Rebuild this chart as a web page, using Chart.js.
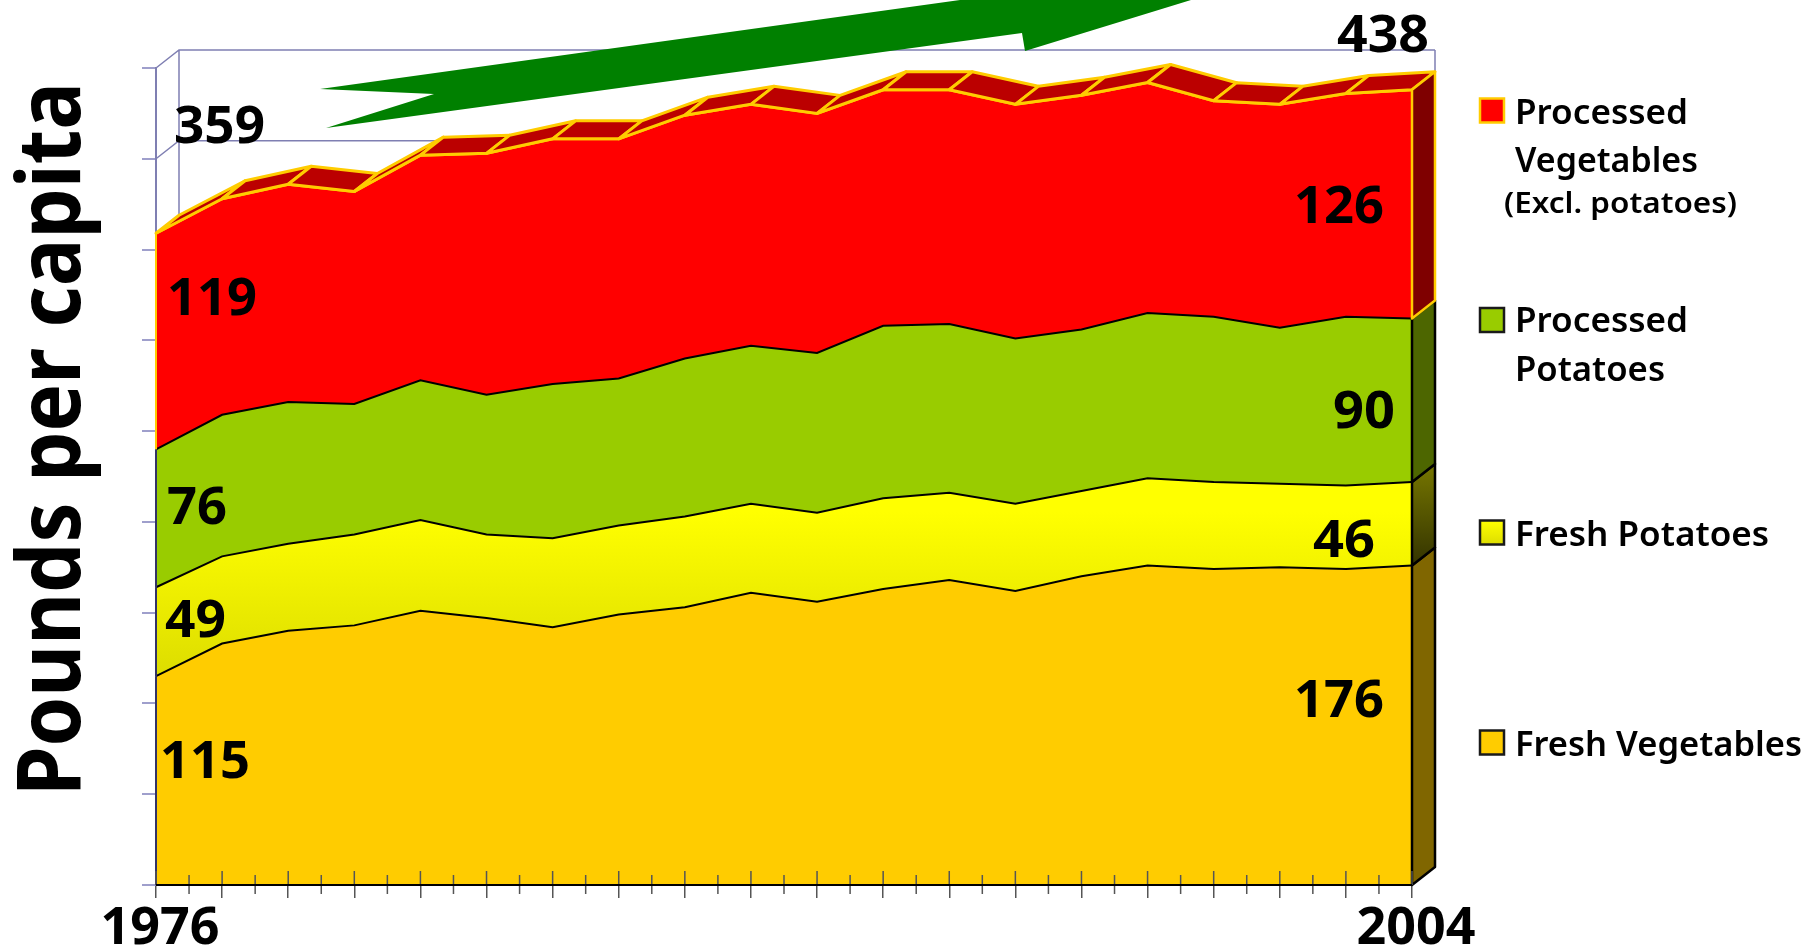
<!DOCTYPE html>
<html>
<head>
<meta charset="utf-8">
<title>Pounds per capita</title>
<script src="https://cdn.jsdelivr.net/npm/chart.js"></script>
<style>
  html, body { margin: 0; padding: 0; background: #fff; overflow: hidden; }
  canvas { display: block; }
</style>
</head>
<body>
<canvas id="chart" width="1809" height="952"></canvas>
<script>
// only the two end years are labelled on the axis
const categories = ["1976", "", "", "", "", "", "", "", "", "", "", "", "", "", "", "", "", "", "", "2004"];
const seriesNames = ["Fresh Vegetables", "Fresh Potatoes", "Processed Potatoes", "Processed Vegetables"];

const freshVegetables = [115, 133, 140, 143, 151, 147, 142, 149, 153, 161, 156, 163, 168, 162, 170, 176, 174, 175, 174, 176];
const freshPotatoes = [49, 48, 48, 50, 50, 46, 49, 49, 50, 49, 49, 50, 48, 48, 47, 48, 48, 46, 46, 46];
const processedPotatoes = [76, 78, 78, 72, 77, 77, 85, 81, 87, 87, 88, 95, 93, 91, 89, 91, 91, 86, 93, 90];
const processedVegetables = [119, 119, 120, 117, 124, 133, 135, 132, 134, 133, 132, 130, 129, 129, 129, 127, 119, 123, 123, 126];

const yTicks = [0, 50, 100, 150, 200, 250, 300, 350, 400, 450];

const canvas = document.getElementById("chart");
const ctx = canvas.getContext("2d");

const FONT = "'Noto Sans', 'DejaVu Sans'";
const DEPTH_X = 23;
const DEPTH_Y = -18;
const WALL = "#7f7fb2";

const fills = ["#FFCC00", null, "#99CC00", "#FF0000"];
const sides = ["#806600", null, "#4D6600", "#7F0000"];
const edges = ["#000000", "#000000", "#000000", "#FFCC00"];

const seriesValues = [freshVegetables, freshPotatoes, processedPotatoes, processedVegetables];

function yellowFill() {
  const g = ctx.createLinearGradient(0, 512, 0, 676);
  g.addColorStop(0, "#FFFF00");
  g.addColorStop(1, "#DDDD00");
  return g;
}

// running total of the layers up to and including layer s, at point i
function stackedTop(s, i) {
  let total = 0;
  for (let k = 0; k <= s; k++) total += seriesValues[k][i];
  return total;
}

// squeeze or stretch a string to the width it has in the reference
function fitText(c, text, x, y, width) {
  c.save();
  c.translate(x, y);
  c.scale(width / c.measureText(text).width, 1);
  c.fillText(text, 0, 0);
  c.restore();
}

// back wall of the 3D box, under the areas
const backWall = {
  id: "backWall",
  beforeDatasetsDraw(chart) {
    const c = chart.ctx, a = chart.chartArea, y = chart.scales.y;
    c.save();
    c.strokeStyle = WALL;
    c.lineWidth = 1.5;
    c.beginPath();
    yTicks.forEach((t) => {
      const py = y.getPixelForValue(t);
      c.moveTo(a.left, py);
      c.lineTo(a.left + DEPTH_X, py + DEPTH_Y);
      c.lineTo(a.right + DEPTH_X, py + DEPTH_Y);
    });
    c.moveTo(a.left + DEPTH_X, a.top + DEPTH_Y);
    c.lineTo(a.left + DEPTH_X, a.bottom + DEPTH_Y);
    c.moveTo(a.right + DEPTH_X, a.top + DEPTH_Y);
    c.lineTo(a.right + DEPTH_X, a.bottom + DEPTH_Y);
    c.stroke();
    c.restore();
  }
};

const depthFaces = {
  id: "depthFaces",
  afterDatasetsDraw(chart) {
    const c = chart.ctx, a = chart.chartArea, x = chart.scales.x, y = chart.scales.y;
    const last = categories.length - 1;
    c.save();
    c.lineJoin = "round";

    // top face of the stack
    c.fillStyle = "#BB0000";
    c.strokeStyle = "#FFCC00";
    c.lineWidth = 3;
    for (let i = 0; i < last; i++) {
      const x0 = x.getPixelForValue(i), x1 = x.getPixelForValue(i + 1);
      const y0 = y.getPixelForValue(stackedTop(3, i)), y1 = y.getPixelForValue(stackedTop(3, i + 1));
      c.beginPath();
      c.moveTo(x0, y0);
      c.lineTo(x1, y1);
      c.lineTo(x1 + DEPTH_X, y1 + DEPTH_Y);
      c.lineTo(x0 + DEPTH_X, y0 + DEPTH_Y);
      c.closePath();
      c.fill();
      c.stroke();
    }

    // right side faces
    for (let s = 0; s < 4; s++) {
      const yTop = y.getPixelForValue(stackedTop(s, last));
      const yBot = s === 0 ? a.bottom : y.getPixelForValue(stackedTop(s - 1, last));
      c.beginPath();
      c.moveTo(a.right, yBot);
      c.lineTo(a.right, yTop);
      c.lineTo(a.right + DEPTH_X, yTop + DEPTH_Y);
      c.lineTo(a.right + DEPTH_X, yBot + DEPTH_Y);
      c.closePath();
      if (sides[s]) {
        c.fillStyle = sides[s];
      } else {
        const g = c.createLinearGradient(0, yTop + DEPTH_Y, 0, yBot);
        g.addColorStop(0, "#777700");
        g.addColorStop(1, "#333300");
        c.fillStyle = g;
      }
      c.fill();
      c.strokeStyle = edges[s];
      c.lineWidth = 2.5;
      c.stroke();
    }

    // front edges of the areas
    for (let s = 0; s < 4; s++) {
      const yBot = s === 0 ? a.bottom : y.getPixelForValue(stackedTop(s - 1, 0));
      c.strokeStyle = s === 3 ? "#FFCC00" : "#333366";
      c.lineWidth = 2;
      c.beginPath();
      c.moveTo(a.left, yBot);
      c.lineTo(a.left, y.getPixelForValue(stackedTop(s, 0)));
      c.stroke();
    }

    // ticks on the year axis, they cross the base line
    c.strokeStyle = "#555555";
    c.lineWidth = 1.5;
    c.beginPath();
    for (let i = 0; i <= last; i++) {
      const px = x.getPixelForValue(i);
      c.moveTo(px, a.bottom - 14);
      c.lineTo(px, a.bottom);
      if (i < last) {
        const mx = x.getPixelForValue(i + 0.5);
        c.moveTo(mx, a.bottom - 10);
        c.lineTo(mx, a.bottom + 9);
      }
    }
    c.stroke();
    c.strokeStyle = "#000000";
    c.lineWidth = 2;
    c.beginPath();
    c.moveTo(a.left, a.bottom);
    c.lineTo(a.right, a.bottom);
    c.stroke();
    c.restore();
  }
};

const annotations = {
  id: "annotations",
  afterDraw(chart) {
    const c = chart.ctx;
    const last = categories.length - 1;
    c.save();

    // green trend arrow, runs off the top of the picture
    c.fillStyle = "#008000";
    c.beginPath();
    c.moveTo(320, 89);
    c.lineTo(960, 0);
    c.lineTo(1191, 0);
    c.lineTo(1025, 51);
    c.lineTo(1022, 33);
    c.lineTo(326, 128);
    c.lineTo(434, 94);
    c.closePath();
    c.fill();

    c.fillStyle = "#000000";
    c.textBaseline = "alphabetic";
    c.font = "bold 52px " + FONT;
    const first = (s) => String(seriesValues[s][0]);
    const end = (s) => String(seriesValues[s][last]);
    fitText(c, first(0), 160, 778, 90);
    fitText(c, first(1), 165, 637, 61);
    fitText(c, first(2), 167, 524, 60);
    fitText(c, first(3), 167, 315, 90);
    fitText(c, String(stackedTop(3, 0)), 174, 143, 91);
    fitText(c, end(0), 1294, 717, 90);
    fitText(c, end(1), 1313, 557, 62);
    fitText(c, end(2), 1333, 428, 62);
    fitText(c, end(3), 1294, 223, 90);
    fitText(c, String(stackedTop(3, last)), 1337, 52, 92);

    // axis title
    c.save();
    c.translate(79.5, 796);
    c.rotate(-Math.PI / 2);
    c.font = "bold 88px " + FONT;
    fitText(c, "Pounds per capita", 0, 0, 714);
    c.restore();

    // legend
    const boxes = [
      { s: 3, top: 98.5, edge: "#FFCC00" },
      { s: 2, top: 308, edge: "#1a1a1a" },
      { s: 1, top: 520.5, edge: "#1a1a1a" },
      { s: 0, top: 730.5, edge: "#1a1a1a" }
    ];
    boxes.forEach((b) => {
      if (fills[b.s]) {
        c.fillStyle = fills[b.s];
      } else {
        const g = c.createLinearGradient(0, b.top, 0, b.top + 24);
        g.addColorStop(0, "#FFFF00");
        g.addColorStop(1, "#DDDD00");
        c.fillStyle = g;
      }
      c.fillRect(1480, b.top, 24, 24);
      c.strokeStyle = b.edge;
      c.lineWidth = 2.5;
      c.strokeRect(1480, b.top, 24, 24);
    });
    c.fillStyle = "#000000";
    c.font = "600 35px " + FONT;
    fitText(c, "Processed", 1515, 124, 173);
    fitText(c, "Vegetables", 1515, 172, 183);
    fitText(c, "Processed", 1515, 332, 173);
    fitText(c, "Potatoes", 1515, 381, 150);
    fitText(c, seriesNames[1], 1515, 546, 254);
    fitText(c, seriesNames[0], 1515, 756, 287);
    c.font = "600 28px " + FONT;
    fitText(c, "(Excl. potatoes)", 1504, 213, 233);
    c.restore();
  }
};

const datasets = seriesValues.map((values, s) => ({
  label: seriesNames[s],
  data: values,
  backgroundColor: fills[s] || yellowFill(),
  borderColor: edges[s],
  borderWidth: s === 3 ? 3 : 2,
  fill: s === 0 ? "origin" : "-1",
  pointRadius: 0,
  tension: 0,
  clip: false
}));

new Chart(ctx, {
  type: "line",
  data: { labels: categories, datasets: datasets },
  plugins: [backWall, depthFaces, annotations],
  options: {
    responsive: false,
    animation: false,
    layout: { padding: { top: 68, right: 397, left: 0, bottom: 0 } },
    plugins: { legend: { display: false }, title: { display: false }, tooltip: { enabled: false } },
    scales: {
      x: {
        offset: false,
        afterFit: (scale) => { scale.height = 67; },
        border: { display: false },
        grid: { drawOnChartArea: false, tickLength: 13, color: "#555555", lineWidth: 1.5 },
        ticks: {
          autoSkip: false,
          maxRotation: 0,
          padding: 0,
          labelOffset: 4,
          color: "#000000",
          font: { family: FONT, weight: "bold", size: 52 }
        }
      },
      y: {
        stacked: true,
        min: 0,
        max: 450,
        afterFit: (scale) => { scale.width = 156; },
        afterBuildTicks: (scale) => { scale.ticks = yTicks.map((v) => ({ value: v })); },
        border: { display: true, color: WALL, width: 2 },
        grid: { drawOnChartArea: false, tickLength: 14, color: "#9f9fcc", lineWidth: 2 },
        ticks: { display: false }
      }
    }
  }
});
</script>
</body>
</html>
